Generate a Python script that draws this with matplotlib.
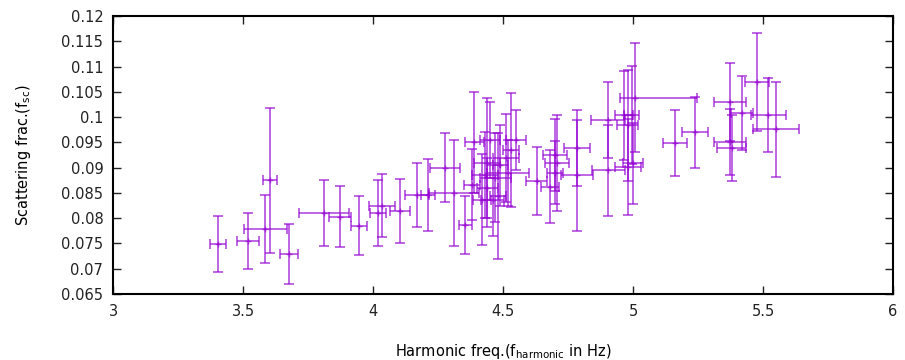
import matplotlib.pyplot as plt
import numpy as np

# Harmonic frequency (Hz), scattering fraction and their error bars
freq = [3.404, 3.52, 3.604, 3.585, 3.677, 3.81, 3.873, 3.946, 4.02, 4.035,
        4.104, 4.169, 4.21, 4.277, 4.31, 4.354, 4.39, 4.44, 4.47, 4.51,
        4.53, 4.52, 4.44, 4.46, 4.48, 4.63, 4.68, 4.70, 4.70, 4.708,
        4.785, 4.785, 4.905, 4.965, 4.995, 5.008, 4.98, 4.905, 4.98, 5.0,
        5.16, 5.238, 5.373, 5.373, 5.38, 5.42, 5.477, 5.52, 5.55, 4.38,
        4.42, 4.45, 4.55, 4.49, 4.43]
frac = [0.0749, 0.0755, 0.0875, 0.0778, 0.0729, 0.0810, 0.0803, 0.0785, 0.0810, 0.0825,
        0.0814, 0.0846, 0.0846, 0.0900, 0.0850, 0.0787, 0.0950, 0.0910, 0.0880, 0.0920,
        0.0935, 0.0890, 0.0860, 0.0835, 0.0844, 0.0874, 0.0862, 0.0890, 0.0925, 0.0910,
        0.0939, 0.0885, 0.0994, 0.1004, 0.1004, 0.1038, 0.0984, 0.0895, 0.0901, 0.0909,
        0.0949, 0.0970, 0.1030, 0.0951, 0.0939, 0.1008, 0.1070, 0.1004, 0.0976, 0.0866,
        0.0836, 0.0955, 0.0955, 0.0905, 0.0885]
freq_lo = [0.030, 0.042, 0.027, 0.083, 0.035, 0.096, 0.042, 0.030, 0.030, 0.050,
           0.040, 0.045, 0.027, 0.058, 0.096, 0.025, 0.035, 0.050, 0.060, 0.050,
           0.030, 0.080, 0.040, 0.045, 0.030, 0.040, 0.035, 0.030, 0.045, 0.045,
           0.050, 0.063, 0.065, 0.035, 0.030, 0.058, 0.040, 0.063, 0.050, 0.040,
           0.046, 0.050, 0.062, 0.062, 0.055, 0.042, 0.046, 0.067, 0.087, 0.030,
           0.035, 0.040, 0.040, 0.030, 0.050]
freq_hi = [0.030, 0.042, 0.027, 0.083, 0.035, 0.096, 0.042, 0.030, 0.030, 0.050,
           0.040, 0.045, 0.027, 0.058, 0.096, 0.025, 0.035, 0.050, 0.060, 0.050,
           0.030, 0.080, 0.040, 0.045, 0.030, 0.040, 0.035, 0.030, 0.045, 0.045,
           0.050, 0.063, 0.065, 0.035, 0.030, 0.238, 0.040, 0.063, 0.050, 0.040,
           0.046, 0.050, 0.062, 0.062, 0.055, 0.042, 0.046, 0.067, 0.087, 0.030,
           0.035, 0.040, 0.040, 0.030, 0.050]
frac_err = [0.0055, 0.0055, 0.0143, 0.0067, 0.0060, 0.0066, 0.0060, 0.0058, 0.0065, 0.0063,
            0.0063, 0.0063, 0.0072, 0.0068, 0.0105, 0.0057, 0.0100, 0.0128, 0.0088, 0.0087,
            0.0113, 0.0065, 0.0060, 0.0070, 0.0125, 0.0067, 0.0072, 0.0062, 0.0072, 0.0095,
            0.0075, 0.0110, 0.0075, 0.0088, 0.0097, 0.0108, 0.0110, 0.0090, 0.0095, 0.0080,
            0.0066, 0.0070, 0.0077, 0.0065, 0.0065, 0.0073, 0.0097, 0.0073, 0.0094, 0.0070,
            0.0090, 0.0075, 0.0060, 0.0080, 0.0085]

xticks = [3, 3.5, 4, 4.5, 5, 5.5, 6]
yticks = [0.065, 0.07, 0.075, 0.08, 0.085, 0.09, 0.095, 0.1, 0.105, 0.11, 0.115, 0.12]

fig = plt.figure(figsize=(9.05, 3.6), dpi=100)
ax = fig.add_axes([0.1249, 0.1833, 0.8618, 0.7723])

ax.errorbar(freq, frac, xerr=[freq_lo, freq_hi], yerr=frac_err,
            fmt='+', color='#9400d3', ecolor='#9400d3', alpha=0.65,
            markersize=5, elinewidth=1.3, capsize=3.5, capthick=1.3)

ax.set_xlim(3, 6)
ax.set_ylim(0.065, 0.12)
ax.set_xticks(xticks)
ax.set_xticklabels(['3', '3.5', '4', '4.5', '5', '5.5', '6'])
ax.set_yticks(yticks)
ax.set_yticklabels(['0.065', '0.07', '0.075', '0.08', '0.085', '0.09', '0.095',
                    '0.1', '0.105', '0.11', '0.115', '0.12'])
ax.tick_params(direction='in', top=True, right=True, length=6, width=1,
               labelsize=10.5, colors='#222222', pad=7)
for s in ax.spines.values():
    s.set_linewidth(1.5)

ax.set_xlabel(r'Harmonic freq.(f$_{\mathregular{harmonic}}$ in Hz)', fontsize=10.5, labelpad=17)
ax.set_ylabel(r'Scattering frac.(f$_{\mathregular{sc}}$)', fontsize=10.5, labelpad=20)

plt.savefig('out.png')
